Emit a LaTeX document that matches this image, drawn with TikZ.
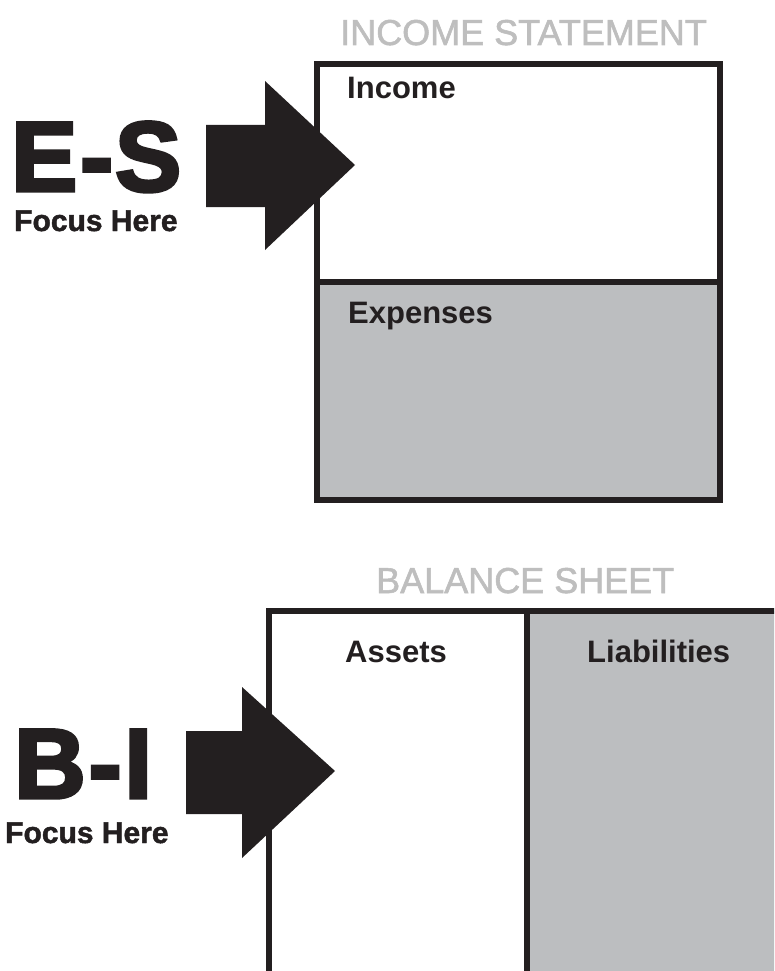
\documentclass[tikz,border=0pt]{standalone}
\usepackage{fontspec}
\setmainfont{Liberation Sans}
\newfontfamily\heavyfont{Liberation Sans Bold}[FakeBold=3.5]
\newfontfamily\focusfont{Liberation Sans Bold}[FakeBold=1.5]
\newfontfamily\titlefont{Liberation Sans}[FakeBold=1.5]
\definecolor{ink}{RGB}{35,31,32}
\definecolor{panelgray}{RGB}{188,190,192}
\definecolor{titlegray}{RGB}{190,190,190}
\tikzset{
  label/.style={font=\fontsize{31}{31}\selectfont\bfseries, text=ink, anchor=base west, inner sep=0pt},
  title/.style={font=\fontsize{36}{36}\selectfont\titlefont, text=titlegray, anchor=base west, inner sep=0pt},
  bigtag/.style={font=\fontsize{99}{99}\selectfont\heavyfont, text=ink, anchor=base west, inner sep=0pt, text depth=0pt},
  focus/.style={font=\fontsize{30}{30}\selectfont\focusfont, text=ink, anchor=base west, inner sep=0pt},
  boxline/.style={draw=ink, line width=6pt},
  bigarrow/.style={fill=ink},
}
\begin{document}
\begin{tikzpicture}[x=1pt,y=-1pt]
\useasboundingbox (0,0) rectangle (774,971);
\fill[white] (0,0) rectangle (774,971);
% income statement
\path[fill=white] (317,64) rectangle (720,282);
\path[fill=panelgray] (317,282) rectangle (720,500);
\draw[boxline] (317,64) rectangle (720,500);
\draw[boxline] (317,282) -- (720,282);
% balance sheet
\begin{scope}
\clip (0,0) rectangle (774,971);
\fill[panelgray] (527,611) rectangle (800,1000);
\draw[boxline] (269,1000) -- (269,611) -- (800,611);
\draw[boxline] (527,611) -- (527,1000);
\end{scope}
% arrows
\fill[bigarrow] (206,125) -- (265,125) -- (265,81) -- (355,165) -- (265,250) -- (265,207) -- (206,207) -- cycle;
\fill[bigarrow] (186,731) -- (242,731) -- (242,687) -- (335,771) -- (242,858) -- (242,814) -- (186,814) -- cycle;
% texts
\node[title] (ist) at (340,45) {INCOME STATEMENT};
\node[title] (bst) at (376,593) {BALANCE SHEET};
\node[label] (inc) at (347,99) {Income};
\node[label] (exp) at (348,323) {Expenses};
\node[label] (ast) at (345,662) {Assets};
\node[label] (lia) at (587,662) {Liabilities};
\node[bigtag] (es) at (11,191) {E\kern3pt-\kern2pt S};
\node[bigtag] (bi) at (14,798) {B\kern3pt-\kern3pt I};
\node[focus] (f1) at (14,231) {Focus Here};
\node[focus] (f2) at (5,843) {Focus Here};
\end{tikzpicture}
\end{document}
